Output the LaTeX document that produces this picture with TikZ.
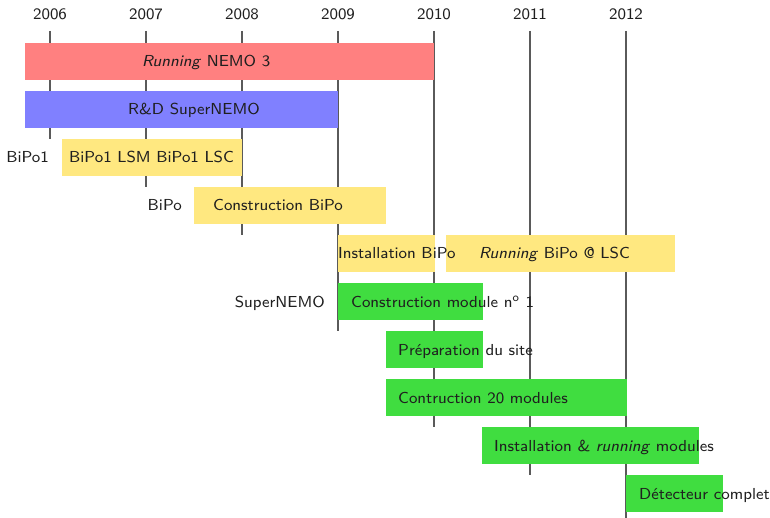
\documentclass[tikz,border=0pt]{standalone}
\usepackage{tikz}
\usepackage{graphicx}
\definecolor{cred}{RGB}{255,128,128}
\definecolor{cblue}{RGB}{128,128,255}
\definecolor{cyel}{RGB}{255,232,128}
\definecolor{cgreen}{RGB}{64,221,64}
\definecolor{cline}{RGB}{90,90,90}
\newcommand{\sx}[1]{\scalebox{1.99}{#1}}
\begin{document}
\begin{tikzpicture}[x=1pt,y=-1pt,
  font=\sffamily\fontsize{8}{10}\selectfont,
  gbar/.style={draw=none, inner sep=0, outer sep=0, anchor=north west, minimum height=37pt},
  lbl/.style={anchor=base west, inner sep=0, text=black!88},
  side/.style={anchor=base east, inner sep=0, text=black!88},
  yr/.style={anchor=base, inner sep=0, text=black!88},
  tick/.style={draw=cline, line width=1.2pt}]
\useasboundingbox (0,0) rectangle (770,518);
% year labels
\node[yr] (y2006) at (50,19.5) {\sx{2006}};
\node[yr] (y2007) at (146,19.5) {\sx{2007}};
\node[yr] (y2008) at (242,19.5) {\sx{2008}};
\node[yr] (y2009) at (338,19.5) {\sx{2009}};
\node[yr] (y2010) at (434,19.5) {\sx{2010}};
\node[yr] (y2011) at (530,19.5) {\sx{2011}};
\node[yr] (y2012) at (626,19.5) {\sx{2012}};
% year lines
\draw[tick] (50,31) -- (50,139);
\draw[tick] (146,31) -- (146,187);
\draw[tick] (242,31) -- (242,235);
\draw[tick] (338,31) -- (338,331);
\draw[tick] (434,31) -- (434,427);
\draw[tick] (530,31) -- (530,475);
\draw[tick] (626,31) -- (626,518);
% bars
\node[gbar, fill=cred, minimum width=409pt] (bnemo) at (25,43) {};
\node[gbar, fill=cblue, minimum width=313pt] (brd) at (25,91) {};
\node[gbar, fill=cyel, minimum width=180pt] (bbipo1) at (62,139) {};
\node[gbar, fill=cyel, minimum width=192pt] (bcbipo) at (194,187) {};
\node[gbar, fill=cyel, minimum width=97pt] (bibipo) at (338,235) {};
\node[gbar, fill=cyel, minimum width=229pt] (brbipo) at (446,235) {};
\node[gbar, fill=cgreen, minimum width=145pt] (bcmod) at (338,283) {};
\node[gbar, fill=cgreen, minimum width=97pt] (bprep) at (386,331) {};
\node[gbar, fill=cgreen, minimum width=241pt] (bc20) at (386,379) {};
\node[gbar, fill=cgreen, minimum width=217pt] (binst) at (482,427) {};
\node[gbar, fill=cgreen, minimum width=97pt] (bdet) at (626,475) {};
% bar texts
\node[lbl] (tnemo) at (142,67) {\sx{\textit{Running} NEMO 3}};
\node[lbl] (trd) at (128,115) {\sx{R\&D SuperNEMO}};
\node[lbl] (tbipo1) at (69,163) {\sx{BiPo1 LSM BiPo1 LSC}};
\node[lbl] (tcbipo) at (213,211) {\sx{Construction BiPo}};
\node[lbl] (tibipo) at (338,259) {\sx{Installation BiPo}};
\node[lbl] (trbipo) at (479,259) {\sx{\textit{Running} BiPo @ LSC}};
\node[lbl] (tcmod) at (351,307) {\sx{Construction module n\textsuperscript{o} 1}};
\node[lbl] (tprep) at (398,355) {\sx{Préparation du site}};
\node[lbl] (tc20) at (398,403) {\sx{Contruction 20 modules}};
\node[lbl] (tinst) at (494,451) {\sx{Installation \& \textit{running} modules}};
\node[lbl] (tdet) at (639,499) {\sx{Détecteur complet}};
% side labels
\node[side] (sbipo1) at (49,163) {\sx{BiPo1}};
\node[side] (sbipo) at (182,211) {\sx{BiPo}};
\node[side] (ssn) at (325,307) {\sx{SuperNEMO}};
\end{tikzpicture}
\end{document}
